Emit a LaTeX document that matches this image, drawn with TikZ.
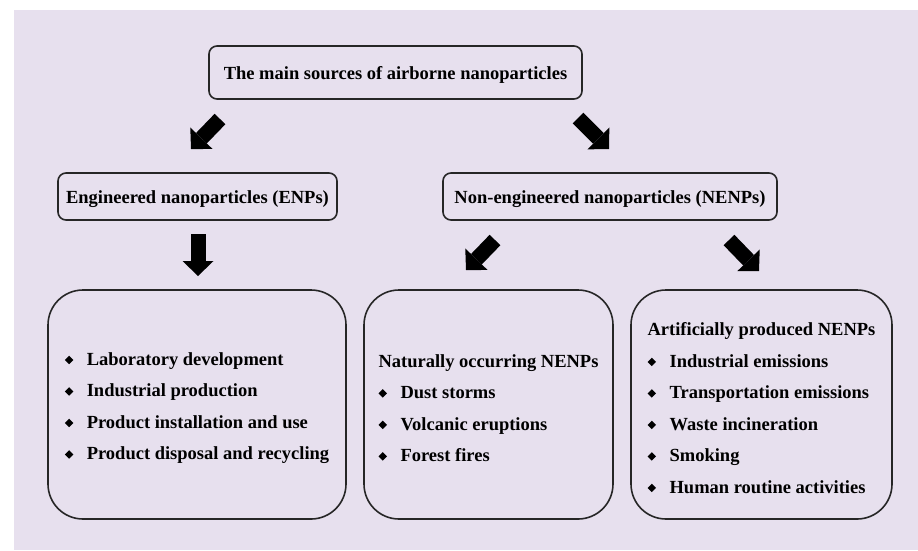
\documentclass[tikz,border=0pt]{standalone}
\usepackage{fontspec}
\setmainfont{Liberation Serif}
\usepackage{graphicx}
\usetikzlibrary{arrows.meta}
\definecolor{lavender}{HTML}{E7E0EE}
\newcommand{\bul}{\makebox[22pt][l]{\raisebox{1pt}{\rotatebox{45}{\rule{6pt}{6pt}}}}}
\newcommand{\topstrut}{\rule{0pt}{20pt}}

\begin{document}
\begin{tikzpicture}[x=1pt, y=-1pt,
    box/.style={draw=black!85, line width=1.6pt, rounded corners=8pt, fill=lavender,
                inner sep=0pt, text height=14pt, text depth=0.5pt,
                font=\fontsize{18.5}{21}\selectfont\bfseries},
    bigbox/.style={draw=black!85, line width=1.6pt, rounded corners=35pt, fill=lavender,
                   inner sep=0pt, align=left, minimum height=229pt,
                   font=\fontsize{18.5}{31.5}\selectfont\bfseries},
    blockarrow/.style={line width=15pt, -{Triangle[length=15pt, width=31pt, line width=0pt]}}]
    \useasboundingbox (0,0) rectangle (918,550);
    \fill[lavender] (14,10) rectangle (918,550);

    % top level
    \node[box, minimum width=373pt, minimum height=53pt] (main) at (395.5,72.5)
        {The main sources of airborne nanoparticles};

    % second level
    \node[box, minimum width=279pt, minimum height=47pt] (enp) at (197.5,196.5)
        {Engineered nanoparticles (ENPs)};
    \node[box, minimum width=334pt, minimum height=47pt] (nenp) at (610,196.5)
        {Non-engineered nanoparticles (NENPs)};

    % third level
    \node[bigbox, minimum width=298pt] (enpsrc) at (197,404.5)
        {\topstrut\bul Laboratory development\\
         \bul Industrial production\\
         \bul Product installation and use\\
         \bul Product disposal and recycling};
    \node[bigbox, minimum width=249pt] (natsrc) at (488.5,404.5)
        {\topstrut Naturally occurring NENPs\\
         \bul Dust storms\\
         \bul Volcanic eruptions\\
         \bul Forest fires};
    \node[bigbox, minimum width=261pt] (artsrc) at (761.5,404.5)
        {\topstrut Artificially produced NENPs\\
         \bul Industrial emissions\\
         \bul Transportation emissions\\
         \bul Waste incineration\\
         \bul Smoking\\
         \bul Human routine activities};

    % block arrows
    \coordinate (a1s) at (220,119);  \coordinate (a1e) at (191,149);
    \coordinate (a2s) at (578,118);  \coordinate (a2e) at (609,149);
    \coordinate (a3s) at (198,234);  \coordinate (a3e) at (198,276);
    \coordinate (a4s) at (495,240);  \coordinate (a4e) at (466,270);
    \coordinate (a5s) at (729,240);  \coordinate (a5e) at (759,271);
    \draw[blockarrow] (a1s) -- (a1e);
    \draw[blockarrow] (a2s) -- (a2e);
    \draw[blockarrow] (a3s) -- (a3e);
    \draw[blockarrow] (a4s) -- (a4e);
    \draw[blockarrow] (a5s) -- (a5e);
\end{tikzpicture}
\end{document}
